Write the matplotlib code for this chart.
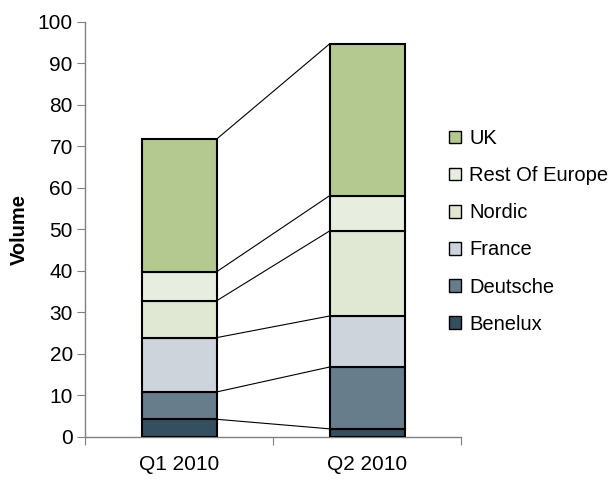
import matplotlib
matplotlib.use("Agg")
import matplotlib.pyplot as plt
import numpy as np

plt.rcParams['font.family'] = ['Liberation Sans', 'DejaVu Sans']

quarters = ["Q1 2010", "Q2 2010"]
regions = ["Benelux", "Deutsche", "France", "Nordic", "Rest Of Europe", "UK"]
volumes = {
    "Benelux":        [4.2, 1.9],
    "Deutsche":       [6.6, 14.9],
    "France":         [13.1, 12.3],
    "Nordic":         [8.9, 20.5],
    "Rest Of Europe": [7.0, 8.5],
    "UK":             [32.0, 36.6],
}
colors = ["#344F60", "#677D8C", "#CDD4DB", "#E0E8D3", "#E8EEDF", "#B3C98F"]

fig = plt.figure(figsize=(6.16, 4.79), dpi=100)
ax = fig.add_axes([85.3 / 616, 1 - 436.7 / 479, (461 - 85.3) / 616, (436.7 - 22) / 479])

x = np.arange(len(quarters))
width = 0.4
bottom = np.zeros(len(quarters))
handles = []
for name, col in zip(regions, colors):
    vals = np.array(volumes[name])
    h = ax.bar(x, vals, width, bottom=bottom, color=col, edgecolor="black",
               linewidth=1.5, label=name, zorder=3)
    handles.append(h)
    bottom = bottom + vals
    # connector from top of segment in Q1 to top of segment in Q2
    ax.plot([x[0] + width / 2, x[1] - width / 2], [bottom[0], bottom[1]],
            color="black", linewidth=0.8, zorder=2)

ax.set_xlim(-0.5, 1.5)
ax.set_ylim(0, 100)
ax.set_yticks(np.arange(0, 101, 10))
ax.set_xticks([-0.5, 0.5, 1.5])
ax.set_xticklabels([])
ax.set_xticks(x, minor=True)
ax.set_xticklabels(quarters, minor=True)
ax.tick_params(axis="x", which="minor", length=0, pad=13, labelsize=15)
ax.tick_params(axis="x", which="major", length=6, direction="out", color="#808080")
ax.tick_params(axis="y", length=6, direction="out", color="#808080", labelsize=15, pad=3)

for s in ["top", "right"]:
    ax.spines[s].set_visible(False)
for s in ["left", "bottom"]:
    ax.spines[s].set_color("#808080")
    ax.spines[s].set_linewidth(1.0)

ax.set_ylabel("Volume", fontsize=14.5, fontweight="bold", labelpad=6)

leg = fig.legend(handles[::-1], regions[::-1], loc="upper left",
                 bbox_to_anchor=(439 / 616, 1 - 119 / 479), frameon=False,
                 fontsize=14.5, handlelength=0.6, handleheight=0.6,
                 handletextpad=0.4, labelspacing=0.9, borderpad=0)
for p in leg.get_patches():
    p.set_linewidth(1.0)

fig.savefig("out.png", dpi=100)
